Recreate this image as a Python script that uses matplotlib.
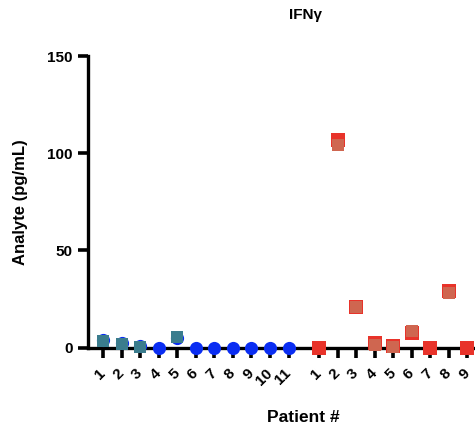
from matplotlib import pyplot as plt
import numpy as np

plt.rcParams['font.family'] = ['Liberation Sans', 'DejaVu Sans']
plt.rcParams['font.weight'] = 'bold'

# group 1 (11 patients) and group 2 (9 patients), two readings each
group1_labels = ['1', '2', '3', '4', '5', '6', '7', '8', '9', '10', '11']
group1_a = [3.9, 2.2, 0.9, 0.0, 4.8, 0.0, 0.0, 0.0, 0.0, 0.0, 0.0]
group1_b = [3.4, 1.7, 0.4, np.nan, 5.6, np.nan, np.nan, np.nan, np.nan, np.nan, np.nan]

group2_labels = ['1', '2', '3', '4', '5', '6', '7', '8', '9']
group2_a = [0.0, 107.0, 21.0, 2.3, 1.0, 7.5, 0.0, 29.0, 0.0]
group2_b = [np.nan, 104.0, 21.0, 1.3, 0.5, 8.5, np.nan, 28.0, np.nan]

yticks = [0, 50, 100, 150]

fig = plt.figure(figsize=(4.75, 4.34), dpi=100)
ax = fig.add_axes([88 / 475, 86.5 / 434, 387 / 475, 291.5 / 434])

x1 = np.arange(1, len(group1_labels) + 1)
x2 = np.arange(len(group2_labels)) + 12.64  # gap between the two groups

ax.plot(x1, group1_a, 'o', color='#0a2df2', ms=9.5, mew=0, clip_on=False, zorder=3)
ax.plot(x1, group1_b, 's', color='#3a7c8d', ms=8.5, mew=0, clip_on=False, zorder=4)
ax.plot(x2, group2_a, 's', color='#e8332a', ms=9.5, mew=0, clip_on=False, zorder=3)
ax.plot(x2, group2_b, 's', color='#cf6650', ms=9, mew=0, clip_on=False, zorder=4)

ax.set_xlim(0.19, 21.05)
ax.set_ylim(0, 150)
ax.set_yticks(yticks)
ax.set_xticks(np.concatenate([x1, x2]))
ax.set_xticklabels(group1_labels + group2_labels)

for s in ['top', 'right']:
    ax.spines[s].set_visible(False)
for s in ['left', 'bottom']:
    ax.spines[s].set_linewidth(2.4)
ax.tick_params(axis='both', width=2.6, length=7, labelsize=11)
ax.tick_params(axis='y', pad=4)
ax.tick_params(axis='x', pad=10)
plt.setp(ax.get_xticklabels(), rotation=45, ha='right', va='center', rotation_mode='anchor')

ax.set_ylabel('Analyte (pg/mL)', fontsize=12, fontweight='bold', labelpad=14)
fig.text(305 / 475, 1 - 15 / 434, 'IFNγ', ha='center', va='center', fontsize=11, fontweight='bold')
fig.text(303 / 475, 1 - 417 / 434, 'Patient #', ha='center', va='center', fontsize=12.5, fontweight='bold')

plt.savefig('out.png', dpi=100)
